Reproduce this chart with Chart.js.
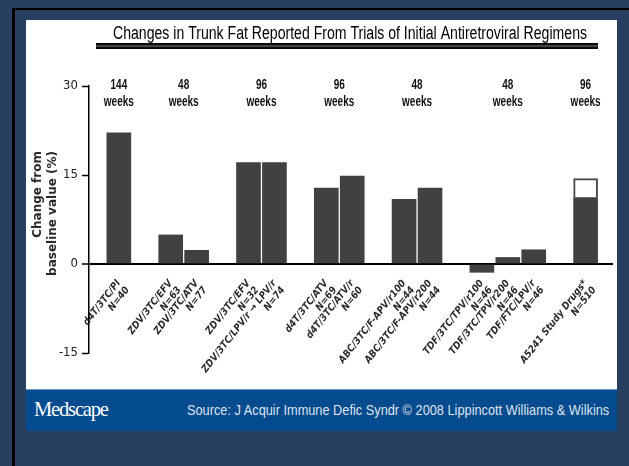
<!DOCTYPE html>
<html>
<head>
<meta charset="utf-8">
<script src="https://cdn.jsdelivr.net/npm/chart.js@4.4.1/dist/chart.umd.min.js"></script>
<style>
  html, body { margin: 0; padding: 0; }
  body { width: 629px; height: 466px; background: #283f5f; position: relative; overflow: hidden; }
  #topline { position: absolute; left: 12px; top: 8px; width: 617px; height: 2px; background: #000; }
  #leftline { position: absolute; left: 12px; top: 8px; width: 3px; height: 458px; background: #000; }
  #panel { position: absolute; left: 26px; top: 20px; width: 591px; height: 369px; background: #fff; }
  #banner { position: absolute; left: 26px; top: 389px; width: 591px; height: 42px; background: #024b8e; border-top: 1px solid #6f97c4; box-sizing: border-box; }
  #brand { position: absolute; left: 8px; top: 6px; font-family: 'Liberation Serif', 'DejaVu Serif', serif; font-size: 22px; color: #fff; letter-spacing: -1.3px; white-space: nowrap; transform-origin: 0 50%; }
  #source { position: absolute; left: 161px; top: 11px; font-family: 'Liberation Sans', Arial, sans-serif; font-size: 15px; color: #dde3ec; white-space: nowrap; transform-origin: 0 50%; }
</style>
</head>
<body>
<div id="topline"></div>
<div id="leftline"></div>
<div id="panel"><canvas id="c" width="591" height="369"></canvas></div>
<div id="banner"><span id="brand">Medscape</span><span id="source">Source: J Acquir Immune Defic Syndr © 2008 Lippincott Williams &amp; Wilkins</span></div>
<script>
// ---- data ----
const chartTitle = 'Changes in Trunk Fat Reported From Trials of Initial Antiretroviral Regimens';
const regimens = ['d4T/3TC/PI', 'ZDV/3TC/EFV', 'ZDV/3TC/ATV', 'ZDV/3TC/EFV', 'ZDV/3TC/LPV/r \u2192 LPV/r',
  'd4T/3TC/ATV', 'd4T/3TC/ATV/r', 'ABC/3TC/F-APV/r100', 'ABC/3TC/F-APV/r200',
  'TDF/3TC/TPV/r100', 'TDF/3TC/TPV/r200', 'TDF/FTC/LPV/r', 'A5241 Study Drugs*'];
const sampleSizes = ['N=40', 'N=63', 'N=77', 'N=32', 'N=74', 'N=69', 'N=60', 'N=44', 'N=44', 'N=46', 'N=46', 'N=46', 'N=510'];
const trunkFatChange = [22.1, 4.9, 2.3, 17.1, 17.1, 12.8, 14.8, 10.9, 12.8, -1.4, 1.1, 2.4, 11.2];
const trunkFatExtra = [null, null, null, null, null, null, null, null, null, null, null, null, 3.2];
const studyWeeks = ['144', '48', '96', '96', '48', '48', '96'];
const studyGroupSizes = [1, 2, 2, 2, 2, 3, 1];
const yTickValues = [-15, 0, 15, 30];
const yAxisTitle = ['Change from', 'baseline value (%)'];

// fit banner texts to the narrow face of the original
(function () {
  const s = document.getElementById('source');
  s.style.transform = 'scaleX(' + (422 / s.offsetWidth) + ')';
  const b = document.getElementById('brand');
  b.style.transform = 'scaleX(' + (74 / b.offsetWidth) + ')';
})();

// slot index for each bar: bars of a study side by side, one empty slot between studies
const slots = [];
const groupOf = [];
let k = 0;
studyGroupSizes.forEach((n, g) => {
  for (let i = 0; i < n; i++) { slots.push(k); groupOf.push(g); k++; }
  k++;
});

const condensed = "'DejaVu Sans Condensed', 'Liberation Sans', sans-serif";

function narrowText(ctx, text, x, y, sx) {
  ctx.save();
  ctx.translate(x, y);
  ctx.scale(sx, 1);
  ctx.fillText(text, 0, 0);
  ctx.restore();
}

const weeksPlugin = {
  id: 'weeks',
  afterDraw(chart) {
    const ctx = chart.ctx;
    const xs = chart.scales.x;
    ctx.save();
    ctx.fillStyle = '#111';
    ctx.font = 'bold 15px "Liberation Sans", Arial, sans-serif';
    ctx.textAlign = 'center';
    ctx.textBaseline = 'middle';
    const sx = 30 / ctx.measureText('weeks').width;
    studyWeeks.forEach((w, g) => {
      const px = slots.filter((s, i) => groupOf[i] === g).map(s => xs.getPixelForValue(s));
      const cx = px.reduce((a, b) => a + b, 0) / px.length;
      narrowText(ctx, w, cx, 65, sx);
      narrowText(ctx, 'weeks', cx, 82, sx);
    });
    ctx.restore();
  }
};

const titlePlugin = {
  id: 'topTitle',
  afterDraw(chart) {
    const ctx = chart.ctx;
    ctx.save();
    ctx.fillStyle = '#000';
    ctx.font = '18px "Liberation Sans", Arial, sans-serif';
    ctx.textAlign = 'center';
    ctx.textBaseline = 'middle';
    const sx = 474 / ctx.measureText(chartTitle).width;
    narrowText(ctx, chartTitle, 324, 14, sx);
    const x0 = 70, x1 = 572, y0 = 23, h = 6;
    const g = ctx.createLinearGradient(0, y0, 0, y0 + h);
    g.addColorStop(0, '#000');
    g.addColorStop(0.3, '#111');
    g.addColorStop(0.5, '#6a6a6a');
    g.addColorStop(0.7, '#111');
    g.addColorStop(1, '#000');
    ctx.fillStyle = g;
    ctx.fillRect(x0, y0, x1 - x0, h);
    ctx.restore();
  }
};

// y-axis title: two lines, both ending at the same height (top-aligned once rotated)
const yTitlePlugin = {
  id: 'yTitle',
  afterDraw(chart) {
    const ctx = chart.ctx;
    ctx.save();
    ctx.fillStyle = '#2a2a2a';
    ctx.font = "bold 12px 'DejaVu Sans', Verdana, sans-serif";
    ctx.textAlign = 'right';
    ctx.textBaseline = 'middle';
    const xs = [12, 27];
    yAxisTitle.forEach((line, i) => {
      ctx.save();
      ctx.translate(xs[i], 131);
      ctx.rotate(-Math.PI / 2);
      ctx.fillText(line, 0, 0);
      ctx.restore();
    });
    ctx.restore();
  }
};

new Chart(document.getElementById('c'), {
  type: 'bar',
  data: {
    datasets: [
      {
        data: trunkFatChange.map((v, i) => ({ x: slots[i], y: v })),
        backgroundColor: '#414141',
        borderWidth: 0,
        barThickness: 24
      },
      {
        data: trunkFatExtra.map((v, i) => ({ x: slots[i], y: v })),
        backgroundColor: '#ffffff',
        borderColor: '#4a4a4a',
        borderWidth: { top: 2, left: 2, right: 2, bottom: 0 },
        borderSkipped: 'bottom',
        barThickness: 24
      }
    ]
  },
  options: {
    responsive: false,
    animation: false,
    layout: { padding: { left: 0, right: 1, top: 66, bottom: 36 } },
    plugins: { legend: { display: false }, tooltip: { enabled: false }, title: { display: false } },
    scales: {
      x: {
        type: 'linear',
        stacked: true,
        offset: false,
        position: { y: 0 },
        min: -1.151,
        max: 19.06,
        afterBuildTicks(scale) { scale.ticks = slots.map(v => ({ value: v })); },
        grid: { display: false, drawTicks: false },
        border: { display: false },
        ticks: {
          autoSkip: false,
          minRotation: 52,
          maxRotation: 52,
          padding: 14,
          color: '#2a2a2a',
          font: { family: condensed, size: 10, style: 'italic', weight: 'bold', lineHeight: 1.1 },
          callback: (v, i) => [regimens[i], sampleSizes[i]]
        }
      },
      y: {
        stacked: true,
        min: -15,
        max: 30,
        afterBuildTicks(scale) { scale.ticks = yTickValues.map(v => ({ value: v })); },
        afterFit(scale) { scale.width = 63; },
        border: { display: true, color: '#000', width: 1.5 },
        grid: {
          color: c => (c.tick && c.tick.value === 0 ? '#000' : 'rgba(0,0,0,0)'),
          lineWidth: c => (c.tick && c.tick.value === 0 ? 2 : 1),
          tickColor: '#000',
          tickWidth: 1.5,
          tickLength: 7
        },
        ticks: {
          padding: 4,
          color: '#222',
          font: { family: condensed, size: 13 }
        },
        title: { display: false }
      }
    }
  },
  plugins: [weeksPlugin, titlePlugin, yTitlePlugin]
});
</script>
</body>
</html>
